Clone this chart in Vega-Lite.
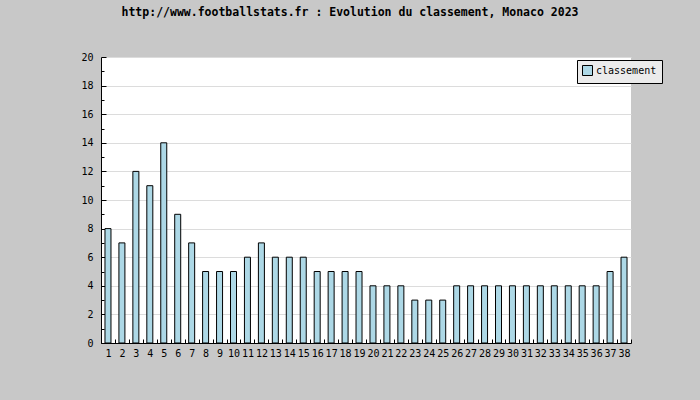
{
  "$schema": "https://vega.github.io/schema/vega-lite/v6.json",
  "autosize": {"type": "none"},
  "width": 530,
  "height": 286,
  "padding": {"left": 101, "top": 57, "right": 69, "bottom": 57},
  "background": "#c8c8c8",
  "title": {
    "text": "http://www.footballstats.fr : Evolution du classement, Monaco 2023",
    "font": "DejaVu Sans Mono",
    "fontSize": 11.5,
    "fontWeight": "bold",
    "color": "black",
    "anchor": "middle",
    "dx": -16,
    "offset": 34
  },
  "data": {
    "values": [
      {"journee": 1, "classement": 8}, {"journee": 2, "classement": 7}, {"journee": 3, "classement": 12},
      {"journee": 4, "classement": 11}, {"journee": 5, "classement": 14}, {"journee": 6, "classement": 9},
      {"journee": 7, "classement": 7}, {"journee": 8, "classement": 5}, {"journee": 9, "classement": 5},
      {"journee": 10, "classement": 5}, {"journee": 11, "classement": 6}, {"journee": 12, "classement": 7},
      {"journee": 13, "classement": 6}, {"journee": 14, "classement": 6}, {"journee": 15, "classement": 6},
      {"journee": 16, "classement": 5}, {"journee": 17, "classement": 5}, {"journee": 18, "classement": 5},
      {"journee": 19, "classement": 5}, {"journee": 20, "classement": 4}, {"journee": 21, "classement": 4},
      {"journee": 22, "classement": 4}, {"journee": 23, "classement": 3}, {"journee": 24, "classement": 3},
      {"journee": 25, "classement": 3}, {"journee": 26, "classement": 4}, {"journee": 27, "classement": 4},
      {"journee": 28, "classement": 4}, {"journee": 29, "classement": 4}, {"journee": 30, "classement": 4},
      {"journee": 31, "classement": 4}, {"journee": 32, "classement": 4}, {"journee": 33, "classement": 4},
      {"journee": 34, "classement": 4}, {"journee": 35, "classement": 4}, {"journee": 36, "classement": 4},
      {"journee": 37, "classement": 5}, {"journee": 38, "classement": 6}
    ]
  },
  "mark": {"type": "bar", "size": 6, "stroke": "black", "strokeWidth": 1},
  "encoding": {
    "x": {
      "field": "journee",
      "type": "ordinal",
      "scale": {"paddingInner": 0, "paddingOuter": 0},
      "axis": {
        "title": null,
        "labelAngle": 0,
        "tickBand": "extent",
        "tickSize": -4,
        "tickColor": "black",
        "domainColor": "black",
        "labelFont": "DejaVu Sans Mono",
        "labelFontSize": 10,
        "labelColor": "black",
        "labelPadding": 9,
        "grid": false
      }
    },
    "y": {
      "field": "classement",
      "type": "quantitative",
      "scale": {"domain": [0, 20], "nice": false},
      "axis": {
        "title": null,
        "values": [0,1,2,3,4,5,6,7,8,9,10,11,12,13,14,15,16,17,18,19,20],
        "labelExpr": "datum.value % 2 === 0 ? datum.label : ''",
        "tickSize": {"condition": {"test": "datum.value % 2 === 0", "value": -5}, "value": -3},
        "tickColor": "black",
        "domainColor": "black",
        "labelFont": "DejaVu Sans Mono",
        "labelFontSize": 10,
        "labelColor": "black",
        "labelPadding": 13,
        "grid": true,
        "gridColor": "#dcdcdc",
        "gridOpacity": {"condition": {"test": "datum.value % 2 === 0", "value": 1}, "value": 0}
      }
    },
    "color": {
      "datum": "classement",
      "scale": {"range": ["#add8e6"]},
      "legend": {
        "title": null,
        "orient": "none",
        "legendX": 476,
        "legendY": 3,
        "fillColor": "#ebebeb",
        "strokeColor": "black",
        "padding": 5,
        "symbolType": "square",
        "symbolSize": 100,
        "symbolStrokeColor": "black",
        "symbolStrokeWidth": 1,
        "symbolOpacity": 1,
        "labelFont": "DejaVu Sans Mono",
        "labelFontSize": 10,
        "labelColor": "black",
        "labelOffset": 3,
        "labelLimit": 200,
        "columnPadding": 0
      }
    }
  },
  "config": {
    "view": {"fill": "white", "stroke": null}
  }
}
